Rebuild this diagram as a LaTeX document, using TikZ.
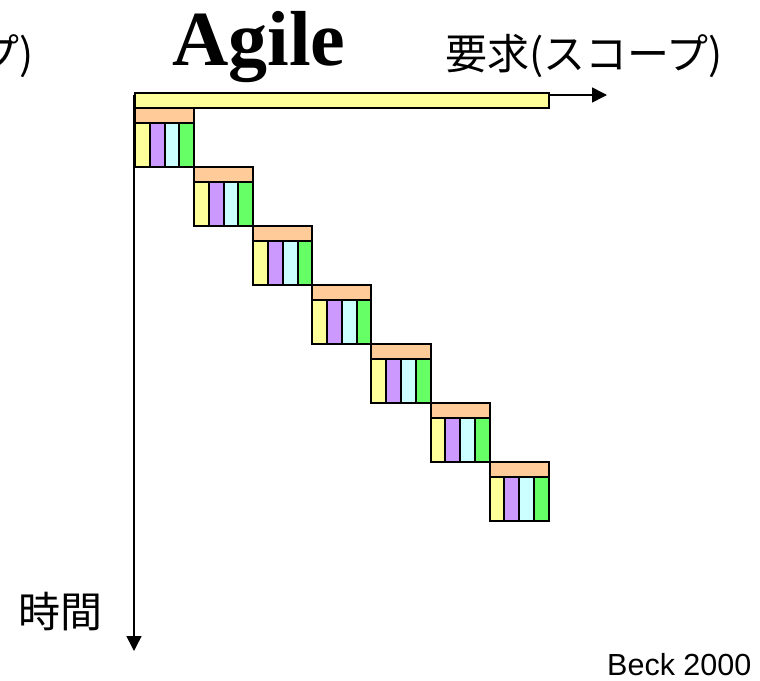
\documentclass[tikz,border=0pt]{standalone}
\usepackage{fontspec}
\setmainfont{Liberation Serif}
\newfontfamily\jpfont{Noto Sans CJK JP}
\newfontfamily\arialfont{Liberation Sans}
\usetikzlibrary{arrows.meta}
\definecolor{cyel}{HTML}{FFFF99}
\definecolor{cpur}{HTML}{CC99FF}
\definecolor{ccya}{HTML}{CCFFFF}
\definecolor{cgrn}{HTML}{66FF66}
\definecolor{corg}{HTML}{FFCC99}
\tikzset{
  cell/.style={draw=black, line width=2pt},
  axis/.style={line width=1.5pt, -{Triangle[length=15pt,width=15pt]}},
  lbl/.style={inner sep=0pt, anchor=base west}
}
\begin{document}
\begin{tikzpicture}[x=1pt,y=-1pt]
\useasboundingbox (0,0) rectangle (760,680);
\clip (0,0) rectangle (760,680);
% axes
\coordinate (o) at (134,95);
\coordinate (xe) at (607,95);
\coordinate (ye) at (134,651);
\draw[axis] (o) -- (xe);
\draw[axis] (o) -- (ye);
% top bar
\draw[cell, fill=cyel] (135,93) rectangle (549,108);
% blocks
\foreach \i in {0,...,6}{
  \pgfmathsetmacro{\bx}{135+59.1*\i}
  \pgfmathsetmacro{\by}{108+59*\i}
  \draw[cell, fill=corg] (\bx,\by) rectangle ++(59.1,15);
  \draw[cell, fill=cyel] (\bx+0,\by+15) rectangle ++(14.775,44);
  \draw[cell, fill=cpur] (\bx+14.775,\by+15) rectangle ++(14.775,44);
  \draw[cell, fill=ccya] (\bx+29.55,\by+15) rectangle ++(14.775,44);
  \draw[cell, fill=cgrn] (\bx+44.325,\by+15) rectangle ++(14.775,44);
}
% texts
\node[lbl] (title) at (172,65) {\fontsize{78}{80}\selectfont\bfseries Agile};
\node[lbl] (req) at (445,69) {\jpfont\fontsize{42}{46}\selectfont 要求(スコープ)};
\node[inner sep=0pt, anchor=base east] (reqL) at (34,69) {\jpfont\fontsize{42}{46}\selectfont 要求(スコープ)};
\node[lbl] (time) at (18,627) {\jpfont\fontsize{42}{46}\selectfont 時間};
\node[lbl] (beck) at (607,675) {\arialfont\fontsize{30.5}{33}\selectfont Beck 2000};
\end{tikzpicture}
\end{document}
